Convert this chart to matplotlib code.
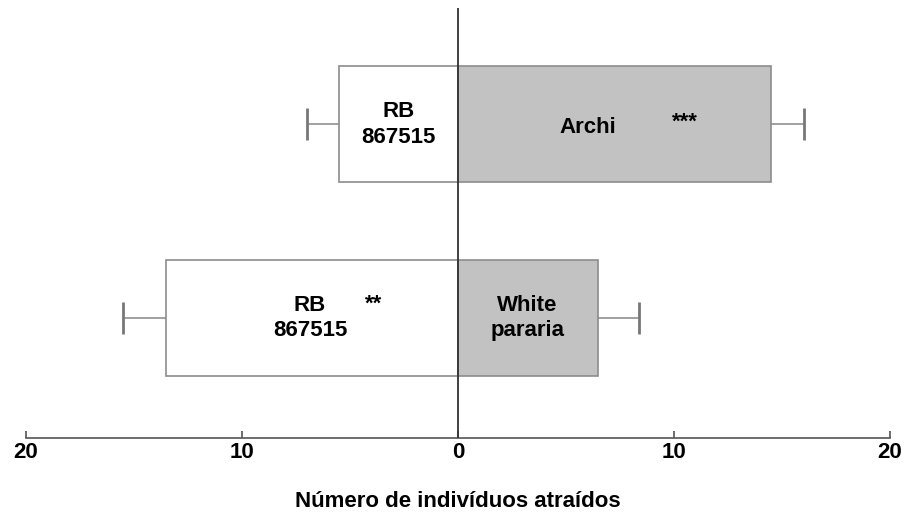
import matplotlib as mpl
mpl.use('Agg')
import matplotlib.pyplot as plt

plt.rcParams['font.family'] = ['Liberation Sans', 'DejaVu Sans']
plt.rcParams['font.weight'] = 'bold'

# two choice tests: left = RB 867515, right = alternative cultivar
pairs = ['Archi', 'White pararia']
left_mean = [5.5, 13.5]
left_err = [1.5, 2.0]
right_mean = [14.5, 6.5]
right_err = [1.5, 1.9]
left_labels = ['RB\n867515', 'RB\n867515']
right_labels = ['Archi', 'White\npararia']
signif = ['***', '**']
ypos = [1, 0]

fig = plt.figure(figsize=(9.06, 5.14), dpi=100)
ax = fig.add_axes([26 / 906, 1 - 438 / 514, 864 / 906, 430 / 514])

edge = '#8c8c8c'
ax.barh(ypos, [-v for v in left_mean], height=0.6, color='white',
        edgecolor=edge, linewidth=1.2, zorder=2)
ax.barh(ypos, right_mean, height=0.6, color='#c2c2c2',
        edgecolor=edge, linewidth=1.2, zorder=2)

# one-sided error bars pointing outward, cap only at the far end
for y, m, e in zip(ypos, left_mean, left_err):
    ax.hlines(y, -m - e, -m, color='#999999', linewidth=1.3, zorder=1)
    ax.plot([-m - e], [y], marker='|', markersize=23, mew=2,
            color='#777777', zorder=1)
for y, m, e in zip(ypos, right_mean, right_err):
    ax.hlines(y, m, m + e, color='#999999', linewidth=1.3, zorder=1)
    ax.plot([m + e], [y], marker='|', markersize=23, mew=2,
            color='#777777', zorder=1)

ax.axvline(0, ymin=0, ymax=1, color='#333333', linewidth=1.3, zorder=3)

fs = 16
# top pair
ax.text(-2.75, 1, left_labels[0], ha='center', va='center', fontsize=fs,
        fontweight='bold', linespacing=1.3)
ax.text(6.0, 0.985, right_labels[0], ha='center', va='center', fontsize=fs,
        fontweight='bold')
ax.text(10.5, 1.01, signif[0], ha='center', va='center', fontsize=fs,
        fontweight='bold')
# bottom pair
ax.text(-6.85, 0, left_labels[1], ha='center', va='center', fontsize=fs,
        fontweight='bold', linespacing=1.3)
ax.text(-3.9, 0.07, signif[1], ha='center', va='center', fontsize=fs,
        fontweight='bold')
ax.text(3.2, 0, right_labels[1], ha='center', va='center', fontsize=fs,
        fontweight='bold', linespacing=1.3)

ax.set_xlim(-20, 20)
ax.set_ylim(-0.62, 1.6)
ax.set_xticks([-20, -10, 0, 10, 20])
ax.set_xticklabels(['20', '10', '0', '10', '20'], fontsize=16,
                   fontweight='bold')
ax.set_yticks([])
for s in ['top', 'right', 'left']:
    ax.spines[s].set_visible(False)
ax.spines['bottom'].set_color('#555555')
ax.spines['bottom'].set_linewidth(1.2)
ax.tick_params(axis='x', direction='in', length=5, color='#555555',
               width=1.2, pad=3)
ax.set_xlabel('Número de indivíduos atraídos', fontsize=16,
              fontweight='bold', labelpad=20)

fig.savefig('out.png', dpi=100)
